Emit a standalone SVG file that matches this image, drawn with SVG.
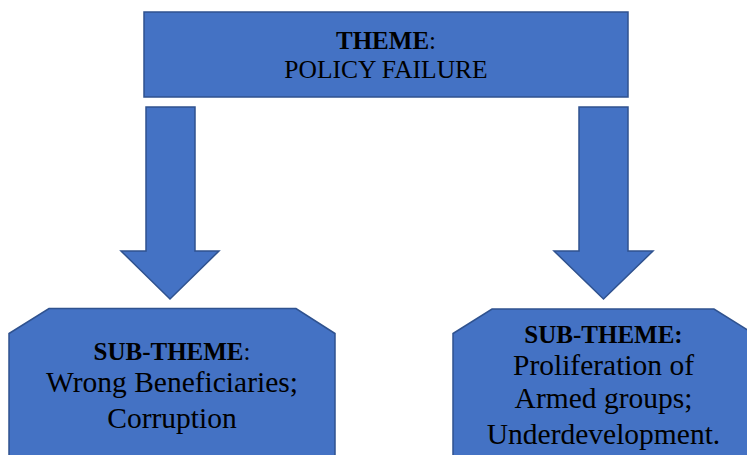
<svg xmlns="http://www.w3.org/2000/svg" width="747" height="455" viewBox="0 0 747 455">
  <style>
    .shape { fill: #4472C4; stroke: #2F528F; stroke-width: 1.5; stroke-linejoin: miter; }
    .txt { font-family: "Liberation Serif", "Times New Roman", serif; fill: #000000; text-anchor: middle; }
    .head { font-size: 25px; }
    .body { font-size: 25.5px; }
    .sub { font-size: 29.5px; }
    .b { font-weight: bold; }
  </style>

  <!-- Main theme box -->
  <g id="theme">
    <rect class="shape" x="144" y="12" width="484" height="85"/>
    <text class="txt head" x="386" y="49"><tspan class="b">THEME</tspan>:</text>
    <text class="txt body" x="386" y="78">POLICY FAILURE</text>
  </g>

  <!-- Block arrows from the theme down to each sub-theme -->
  <g id="connectors">
    <polygon id="arrow-left" class="shape" points="146,107 195,107 195,251 219,251 170,299 121,251 146,251"/>
    <polygon id="arrow-right" class="shape" points="579,107 628,107 628,251 653,251 603.5,299 554,251 579,251"/>
  </g>

  <!-- Sub-theme: wrong beneficiaries / corruption -->
  <g id="subtheme-left">
    <polygon class="shape" points="49,308.5 296,308.5 335,333.5 335,470 9,470 9,333.5"/>
    <text class="txt head" x="172" y="360"><tspan class="b">SUB-THEME</tspan>:</text>
    <text class="txt sub" x="172" y="392">Wrong Beneficiaries;</text>
    <text class="txt sub" x="172" y="428">Corruption</text>
  </g>

  <!-- Sub-theme: armed groups / underdevelopment -->
  <g id="subtheme-right">
    <polygon class="shape" points="492,309 714,309 753,333.5 753,470 453,470 453,333.5"/>
    <text class="txt head b" x="603.5" y="343">SUB-THEME:</text>
    <text class="txt sub" x="603.5" y="375">Proliferation of</text>
    <text class="txt sub" x="603.5" y="408">Armed groups;</text>
    <text class="txt sub" x="603.5" y="444">Underdevelopment.</text>
  </g>
</svg>
